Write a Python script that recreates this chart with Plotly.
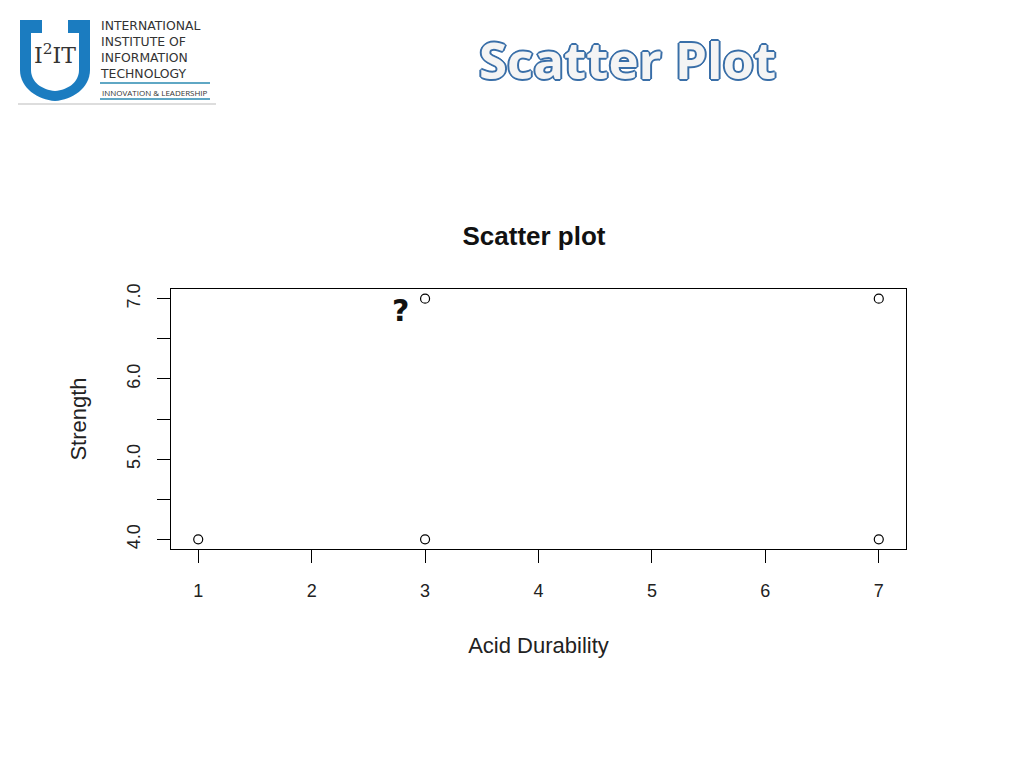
import plotly.graph_objects as go

# Data
acid_durability = [1, 3, 3, 7, 7]
strength = [4, 4, 7, 4, 7]
x_ticks = [1, 2, 3, 4, 5, 6, 7]
y_ticks = [4.0, 5.0, 6.0, 7.0]
y_tick_labels = ["4.0", "5.0", "6.0", "7.0"]

OFF = 8  # page body margin
W, H = 1024 - 2 * OFF, 768 - 2 * OFF
L, R, T, B = 171, 906, 289, 549


def px(x):
    return (x - L) / (R - L)


def py(y):
    return (B - y) / (B - T)


fig = go.Figure()
fig.add_trace(go.Scatter(
    x=acid_durability, y=strength, mode="markers",
    marker=dict(symbol="circle-open", size=9, color="black", line=dict(width=1.2, color="black")),
    showlegend=False, hoverinfo="skip",
))

axis_font = dict(family="Liberation Sans, Arial, sans-serif", size=18, color="#222")
title_font = dict(family="Liberation Sans, Arial, sans-serif", size=22, color="#222")

fig.update_layout(
    width=W, height=H,
    margin=dict(l=L - OFF, r=1024 - OFF - R, t=T - OFF, b=768 - OFF - B),
    paper_bgcolor="white", plot_bgcolor="white",
    xaxis=dict(
        range=[0.76, 7.24], tickvals=x_ticks, ticks="outside", ticklen=13, tickwidth=1, tickcolor="black",
        showline=True, linecolor="black", linewidth=1, mirror=True, showgrid=False, zeroline=False,
        tickfont=axis_font, ticklabelstandoff=12,
        title=dict(text="Acid Durability", font=title_font, standoff=38),
    ),
    yaxis=dict(
        range=[3.88, 7.12], tickvals=y_ticks, ticktext=y_tick_labels, ticks="outside", ticklen=13, tickwidth=1,
        tickcolor="black", tickangle=-90,
        minor=dict(dtick=0.5, tick0=4, ticks="outside", ticklen=13, tickwidth=1, tickcolor="black", showgrid=False),
        showline=True, linecolor="black", linewidth=1, mirror=True, showgrid=False, zeroline=False,
        tickfont=axis_font, ticklabelstandoff=10,
        title=dict(text="Strength", font=title_font, standoff=31),
    ),
    title=dict(text="<b>Scatter plot</b>", xref="paper", x=px(534), xanchor="center",
               yref="container", y=1 - (236 - OFF) / H, yanchor="middle",
               font=dict(family="Liberation Sans, Arial, sans-serif", size=26, color="#111")),
)

# Question mark annotation
fig.add_annotation(x=2.78, y=6.85, xref="x", yref="y", text="<b>?</b>", showarrow=False,
                   xanchor="center", yanchor="middle",
                   font=dict(family="DejaVu Sans, sans-serif", size=30, color="#111"))

# Page header "Scatter Plot" with blue outline
outline = ", ".join(f"{dx}px {dy}px 0 #3a6fa8" for dx, dy in [(-1, -1), (1, -1), (-1, 1), (1, 1), (0, 2), (2, 0), (-2, 0), (0, -2)])
fig.add_annotation(x=px(627), y=py(59), xref="paper", yref="paper", text="Scatter Plot", showarrow=False,
                   xanchor="center", yanchor="middle",
                   font=dict(family="Open Sans, sans-serif", size=51, color="#f4f4f4", weight=700, shadow=outline))

# Logo
blue = "#1b7cc0"
shield_outer = (f"M {px(20)},{py(20)} L {px(90)},{py(20)} L {px(90)},{py(70)} "
                f"C {px(90)},{py(88)} {px(72)},{py(100)} {px(55)},{py(101)} "
                f"C {px(38)},{py(100)} {px(20)},{py(88)} {px(20)},{py(70)} Z")
shield_inner = (f"M {px(31)},{py(33)} L {px(79)},{py(33)} L {px(79)},{py(70)} "
                f"C {px(79)},{py(82)} {px(68)},{py(90)} {px(55)},{py(91)} "
                f"C {px(42)},{py(90)} {px(31)},{py(82)} {px(31)},{py(70)} Z")
fig.add_shape(type="path", path=shield_outer, xref="paper", yref="paper", fillcolor=blue, line=dict(width=0), layer="above")
fig.add_shape(type="path", path=shield_inner, xref="paper", yref="paper", fillcolor="white", line=dict(width=0), layer="above")
fig.add_shape(type="rect", x0=px(42), x1=px(68), y0=py(19), y1=py(34), xref="paper", yref="paper",
              fillcolor="white", line=dict(width=0), layer="above")
fig.add_annotation(x=px(55), y=py(54), xref="paper", yref="paper", text="I<sup>2</sup>IT", showarrow=False,
                   xanchor="center", yanchor="middle",
                   font=dict(family="DejaVu Serif, serif", size=22, color="#333"))

logo_lines = ["INTERNATIONAL", "INSTITUTE OF", "INFORMATION", "TECHNOLOGY"]
fig.add_annotation(x=px(99), y=py(17), xref="paper", yref="paper", text="<br>".join(logo_lines), showarrow=False,
                   xanchor="left", yanchor="top", align="left", borderpad=0,
                   font=dict(family="DejaVu Sans, sans-serif", size=12.4, color="#333"))
fig.add_shape(type="line", x0=px(100), x1=px(210), y0=py(83), y1=py(83), xref="paper", yref="paper",
              line=dict(color="#2a8ab0", width=1.5))
fig.add_annotation(x=px(100), y=py(92), xref="paper", yref="paper", text="INNOVATION &amp; LEADERSHIP", showarrow=False,
                   xanchor="left", yanchor="middle",
                   font=dict(family="Open Sans, sans-serif", size=8, color="#333"))
fig.add_shape(type="line", x0=px(100), x1=px(210), y0=py(99), y1=py(99), xref="paper", yref="paper",
              line=dict(color="#2a8ab0", width=1.5))
fig.add_shape(type="line", x0=px(18), x1=px(216), y0=py(104), y1=py(104), xref="paper", yref="paper",
              line=dict(color="#bbbbbb", width=1))

fig.write_html("out.html")
